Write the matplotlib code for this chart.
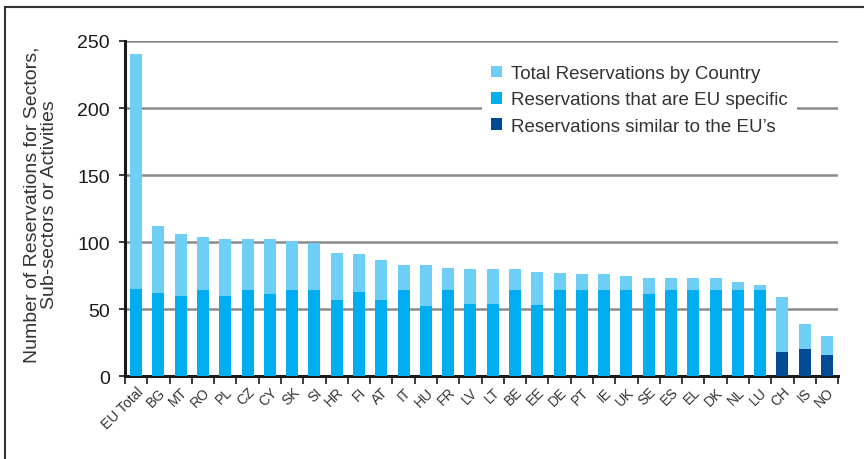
import numpy as np
import matplotlib
matplotlib.use("Agg")
from matplotlib import pyplot as plt
from matplotlib.lines import Line2D

plt.rcParams['font.family'] = ['Liberation Sans', 'DejaVu Sans']

countries = ['EU Total', 'BG', 'MT', 'RO', 'PL', 'CZ', 'CY', 'SK', 'SI', 'HR', 'FI',
             'AT', 'IT', 'HU', 'FR', 'LV', 'LT', 'BE', 'EE', 'DE', 'PT', 'IE', 'UK',
             'SE', 'ES', 'EL', 'DK', 'NL', 'LU', 'CH', 'IS', 'NO']
total = [240, 112, 106, 104, 102, 102, 102, 101, 99, 92, 91,
         87, 83, 83, 81, 80, 80, 80, 78, 77, 76, 76, 75,
         73, 73, 73, 73, 70, 68, 59, 39, 30]
eu_specific = [65, 62, 60, 64, 60, 64, 61, 64, 64, 57, 63,
               57, 64, 52, 64, 54, 54, 64, 53, 64, 64, 64, 64,
               61, 64, 64, 64, 64, 64, 0, 0, 0]
similar = [0] * 29 + [18, 20, 16]

c_total = '#6dcff6'
c_eu = '#00aeef'
c_sim = '#004b93'

fig = plt.figure(figsize=(8.64, 4.6), dpi=100)
ax = fig.add_axes([0.1447, 0.180, 0.8253, 0.7287])

x = np.arange(len(countries))
w = 0.54
ax.bar(x, total, w, color=c_total, zorder=2, label='Total Reservations by Country')
ax.bar(x, eu_specific, w, color=c_eu, zorder=3, label='Reservations that are EU specific')
ax.bar(x, similar, w, color=c_sim, zorder=3, label='Reservations similar to the EU\u2019s')

ax.set_xlim(-0.5, len(countries) - 0.5)
ax.set_ylim(0, 250)
ax.set_yticks([0, 50, 100, 150, 200, 250])
ax.yaxis.grid(True, color='#8a8a8a', linewidth=1.8, zorder=0)
ax.set_axisbelow(True)

for s in ['top', 'right']:
    ax.spines[s].set_visible(False)
ax.spines['left'].set_linewidth(2.2)
ax.spines['bottom'].set_linewidth(2.2)
ax.spines['left'].set_color('#1a1a1a')
ax.spines['bottom'].set_color('#1a1a1a')

ax.tick_params(axis='y', labelsize=14, length=4, width=1.2, pad=7, colors='#1a1a1a')
ax.set_xticks(x)
ax.set_xticklabels(countries, rotation=45, ha='right', rotation_mode='anchor',
                   fontsize=10, color='#333333')
ax.tick_params(axis='x', length=0, pad=6)
ax.set_xticks(np.arange(len(countries) + 1) - 0.5, minor=True)
ax.tick_params(axis='x', which='minor', length=6, width=1.2, color='#1a1a1a')

leg = ax.legend(loc='upper left', bbox_to_anchor=(0.487, 0.984), frameon=True,
                fancybox=False, edgecolor='none', facecolor='white', framealpha=1,
                fontsize=13.5, handlelength=0.6, handleheight=0.6, handletextpad=0.45,
                labelspacing=0.5, borderpad=0.5, labelcolor='#333333')
leg.set_zorder(5)

fig.text(41 / 864, 1 - 205 / 460,
         'Number of Reservations for Sectors,\nSub-sectors or Activities',
         rotation=90, ha='center', va='center', fontsize=14, linespacing=1.0,
         color='#333333')

# page frame lines
fig.add_artist(Line2D([5 / 864, 1], [1 - 8 / 460, 1 - 8 / 460], color='#333333',
                      linewidth=1.5, transform=fig.transFigure))
fig.add_artist(Line2D([5 / 864, 5 / 864], [0, 1 - 8 / 460], color='#333333',
                      linewidth=1.5, transform=fig.transFigure))

fig.savefig('out.png', dpi=100)
